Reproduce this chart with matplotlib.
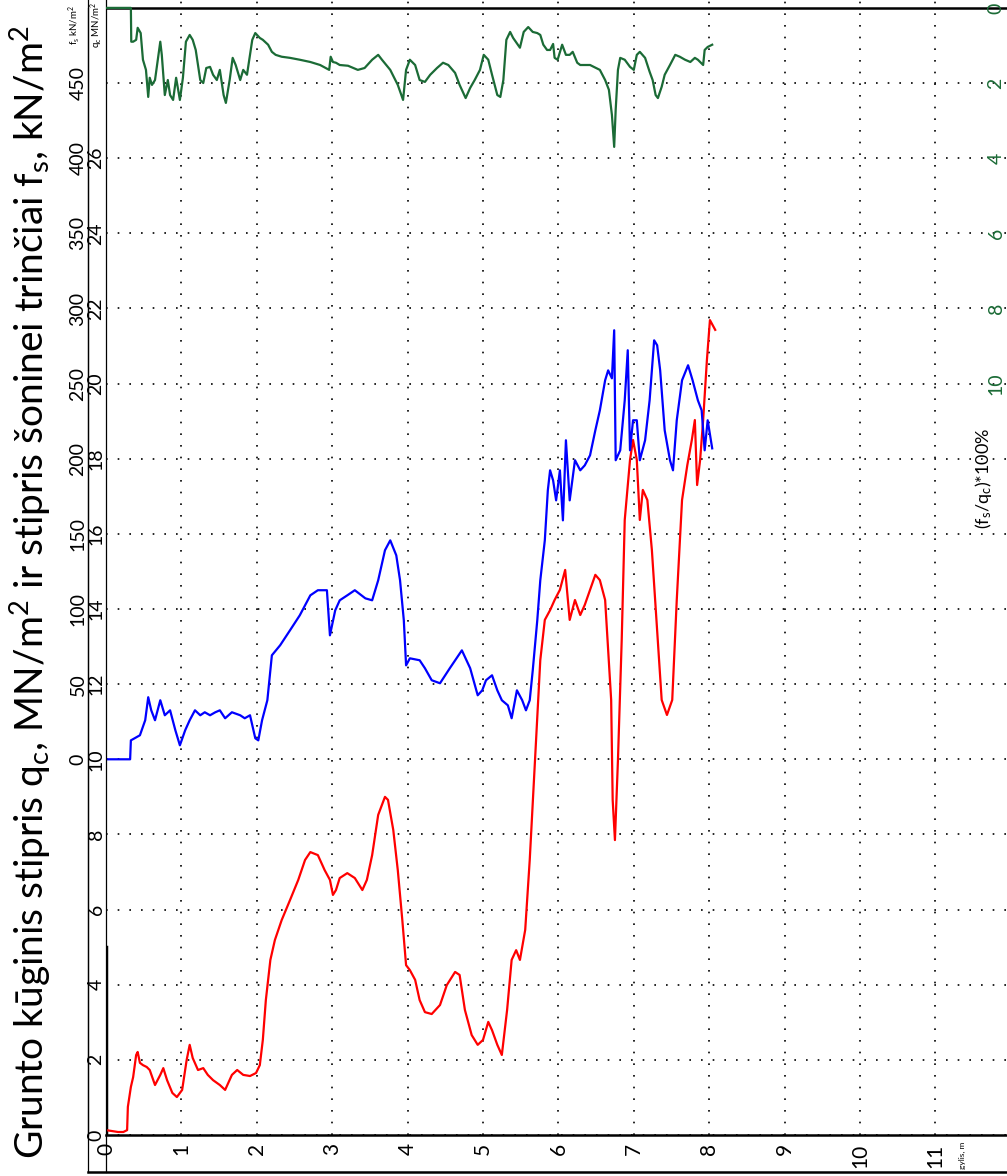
import matplotlib.pyplot as plt
from matplotlib.lines import Line2D

plt.rcParams['font.family'] = ['Lato', 'DejaVu Sans']
plt.rcParams['mathtext.fontset'] = 'custom'
plt.rcParams['mathtext.rm'] = 'Lato'
plt.rcParams['mathtext.it'] = 'Lato:italic'

# kūginis stipris qc, MN/m2 (raudona)
qc_gylis = [0, 0.16, 0.23, 0.28, 0.29, 0.33, 0.36, 0.40, 0.42, 0.45, 0.49, 0.54, 0.58, 0.65, 0.72, 0.76,
            0.81, 0.88, 0.94, 1.01, 1.07, 1.11, 1.15, 1.22, 1.29, 1.35, 1.42, 1.51, 1.58, 1.67, 1.74, 1.82,
            1.91, 1.99, 2.04, 2.08, 2.12, 2.18, 2.24, 2.33, 2.44, 2.55, 2.64, 2.71, 2.81, 2.90, 2.97, 3.01,
            3.05, 3.10, 3.20, 3.30, 3.40, 3.46, 3.53, 3.61, 3.70, 3.74, 3.81, 3.87, 3.93, 3.98, 4.03, 4.10,
            4.16, 4.23, 4.32, 4.43, 4.52, 4.63, 4.69, 4.76, 4.85, 4.93, 5.00, 5.07, 5.12, 5.19, 5.25, 5.32,
            5.38, 5.44, 5.49, 5.56, 5.62, 5.69, 5.76, 5.82, 5.89, 5.95, 6.02, 6.09, 6.15, 6.22, 6.29, 6.35,
            6.42, 6.49, 6.55, 6.62, 6.66, 6.70, 6.72, 6.75, 6.79, 6.84, 6.88, 6.95, 6.99, 7.04, 7.08, 7.12,
            7.18, 7.24, 7.31, 7.37, 7.44, 7.51, 7.57, 7.64, 7.71, 7.77, 7.81, 7.84, 7.88, 7.92, 7.97, 8.01,
            8.08]
qc = [0.13, 0.08, 0.08, 0.13, 0.75, 1.28, 1.54, 2.13, 2.21, 1.92, 1.86, 1.81, 1.73, 1.33, 1.60, 1.78,
      1.46, 1.12, 1.01, 1.20, 2.00, 2.40, 2.05, 1.73, 1.78, 1.60, 1.46, 1.33, 1.20, 1.60, 1.73, 1.60,
      1.57, 1.65, 1.86, 2.53, 3.59, 4.66, 5.19, 5.72, 6.25, 6.79, 7.32, 7.53, 7.45, 7.05, 6.79, 6.39,
      6.52, 6.84, 6.97, 6.84, 6.52, 6.79, 7.45, 8.52, 9.00, 8.92, 8.12, 7.05, 5.72, 4.52, 4.39, 4.13,
      3.59, 3.27, 3.22, 3.46, 3.99, 4.34, 4.26, 3.33, 2.66, 2.40, 2.53, 3.01, 2.79, 2.40, 2.13, 3.33,
      4.66, 4.92, 4.66, 5.46, 7.32, 9.98, 12.64, 13.71, 13.97, 14.24, 14.51, 15.04, 13.71, 14.24, 13.84, 14.11,
      14.51, 14.91, 14.77, 14.24, 12.91, 11.58, 8.92, 7.85, 9.98, 13.18, 16.37, 17.97, 18.50, 17.97, 16.37, 17.17,
      16.90, 15.57, 13.44, 11.58, 11.18, 11.58, 14.24, 16.90, 17.83, 18.50, 19.03, 17.30, 17.97, 19.03, 20.63, 21.69,
      21.43]

# šoninė trintis fs, kN/m2 (mėlyna)
fs_gylis = [0, 0.32, 0.33, 0.38, 0.45, 0.52, 0.56, 0.60, 0.65, 0.72, 0.78, 0.85, 0.92, 0.98, 1.05, 1.11,
            1.18, 1.25, 1.31, 1.38, 1.45, 1.51, 1.58, 1.67, 1.78, 1.84, 1.91, 1.98, 2.02, 2.07, 2.14, 2.20,
            2.31, 2.44, 2.57, 2.71, 2.81, 2.93, 2.97, 3.04, 3.10, 3.20, 3.30, 3.44, 3.53, 3.61, 3.70, 3.77,
            3.85, 3.90, 3.95, 3.98, 4.03, 4.16, 4.23, 4.32, 4.43, 4.56, 4.72, 4.83, 4.93, 4.99, 5.04, 5.12,
            5.19, 5.25, 5.33, 5.38, 5.45, 5.52, 5.57, 5.62, 5.66, 5.72, 5.76, 5.82, 5.86, 5.89, 5.93, 5.97,
            6.02, 6.06, 6.10, 6.15, 6.22, 6.29, 6.35, 6.42, 6.49, 6.55, 6.62, 6.66, 6.71, 6.74, 6.76, 6.82,
            6.88, 6.92, 6.95, 6.99, 7.04, 7.08, 7.15, 7.21, 7.27, 7.31, 7.35, 7.41, 7.48, 7.52, 7.57, 7.64,
            7.72, 7.78, 7.85, 7.90, 7.94, 7.98, 8.04]
fs = [0, 0, 12.6, 14.0, 16.0, 26.0, 41.3, 32.6, 26.0, 39.3, 29.3, 32.6, 19.3, 9.3, 19.3, 26.0,
      32.6, 29.3, 31.3, 29.3, 31.3, 32.6, 27.3, 31.3, 29.3, 27.3, 29.3, 14.0, 12.6, 26.0, 39.3, 69.2,
      75.9, 85.8, 95.8, 109.1, 112.5, 112.5, 82.5, 99.1, 105.8, 109.1, 112.5, 107.1, 105.8, 119.1, 139.1, 145.7,
      135.7, 119.1, 92.5, 62.5, 67.2, 65.9, 60.6, 52.6, 50.6, 60.6, 72.5, 60.6, 42.6, 45.9, 52.6, 55.9,
      45.9, 39.3, 35.9, 27.3, 45.9, 39.3, 32.6, 39.3, 59.2, 92.5, 119.1, 145.7, 179.0, 192.3, 185.6, 172.3,
      192.3, 159.0, 212.3, 172.3, 199.0, 192.3, 195.6, 202.3, 218.9, 232.2, 252.2, 258.8, 253.5, 285.5, 199.0, 205.6,
      238.9, 272.2, 205.6, 225.6, 225.6, 199.0, 212.3, 238.9, 278.8, 275.5, 258.8, 218.9, 199.0, 192.3, 225.6, 252.2,
      262.2, 252.2, 238.9, 232.2, 205.6, 225.6, 206.9]

# santykis (fs/qc)*100%, (žalia)
rf_gylis = [0, 0.33, 0.335, 0.36, 0.40, 0.42, 0.46, 0.49, 0.53, 0.56, 0.58, 0.61, 0.65, 0.69, 0.72, 0.74,
            0.78, 0.82, 0.85, 0.89, 0.93, 0.98, 1.02, 1.06, 1.11, 1.15, 1.19, 1.25, 1.29, 1.33, 1.38, 1.42,
            1.47, 1.51, 1.56, 1.59, 1.64, 1.68, 1.72, 1.78, 1.82, 1.87, 1.94, 1.98, 2.04, 2.08, 2.15, 2.20,
            2.25, 2.33, 2.44, 2.57, 2.71, 2.84, 2.96, 2.98, 3.01, 3.05, 3.10, 3.21, 3.34, 3.43, 3.53, 3.61,
            3.66, 3.77, 3.87, 3.94, 3.98, 4.03, 4.10, 4.16, 4.23, 4.30, 4.39, 4.47, 4.54, 4.63, 4.69, 4.77,
            4.83, 4.89, 4.96, 5.01, 5.07, 5.12, 5.19, 5.23, 5.27, 5.31, 5.36, 5.40, 5.49, 5.54, 5.60, 5.66,
            5.72, 5.76, 5.80, 5.85, 5.89, 5.93, 5.95, 5.99, 6.05, 6.10, 6.15, 6.19, 6.25, 6.29, 6.42, 6.55,
            6.62, 6.67, 6.71, 6.74, 6.76, 6.79, 6.82, 6.88, 6.95, 7.00, 7.04, 7.08, 7.15, 7.21, 7.25, 7.29,
            7.32, 7.37, 7.41, 7.48, 7.55, 7.61, 7.68, 7.75, 7.81, 7.85, 7.92, 7.94, 7.98, 8.04]
rf = [0, 0, 0.90, 0.90, 0.85, 0.53, 0.67, 1.38, 1.65, 2.37, 1.86, 2.05, 1.92, 1.33, 0.90, 1.25,
      2.32, 1.92, 2.32, 2.45, 1.86, 2.45, 1.86, 0.90, 0.72, 0.85, 1.12, 1.92, 2.00, 1.60, 1.57, 1.78,
      1.92, 1.65, 2.32, 2.53, 1.92, 1.33, 1.52, 1.92, 1.65, 1.78, 0.85, 0.67, 0.80, 0.85, 0.98, 1.17,
      1.25, 1.30, 1.33, 1.38, 1.44, 1.52, 1.65, 1.30, 1.44, 1.46, 1.52, 1.54, 1.65, 1.60, 1.38, 1.25,
      1.38, 1.65, 2.05, 2.45, 1.65, 1.38, 1.52, 1.92, 1.97, 1.78, 1.60, 1.46, 1.52, 1.73, 2.05, 2.40,
      2.13, 1.92, 1.65, 1.25, 1.38, 1.78, 2.32, 2.37, 1.92, 0.85, 0.64, 0.80, 1.06, 0.64, 0.51, 0.64,
      0.67, 0.72, 0.98, 1.12, 1.12, 0.96, 1.33, 1.38, 0.98, 1.25, 1.25, 1.17, 1.46, 1.52, 1.52, 1.65,
      1.92, 2.18, 2.85, 3.70, 2.71, 1.65, 1.33, 1.38, 1.57, 1.65, 1.25, 1.17, 1.33, 1.70, 1.92, 2.32,
      2.40, 2.10, 1.78, 1.52, 1.25, 1.30, 1.38, 1.44, 1.33, 1.38, 1.52, 1.12, 1.04, 0.98]

gylio_zymos = list(range(0, 12))
qc_zymos = list(range(0, 30, 2))
qc_tekstai = [str(v) for v in range(0, 28, 2)] + ['']
fs_zymos = list(range(0, 500, 50))
rf_zymos = list(range(0, 12, 2))

zalia = '#1b6b36'

fig = plt.figure(figsize=(10.07, 11.76), dpi=100)
ax = fig.add_axes([106 / 1007, 41 / 1176, 901 / 1007, 1135 / 1176])
ax.set_xlim(0, 11.95)
ax.set_ylim(0, 30.21)

# tinklelis
ax.set_xticks(gylio_zymos)
ax.set_xticklabels([str(v) for v in gylio_zymos], rotation=90, fontsize=15)
ax.set_yticks(qc_zymos)
ax.set_yticklabels(qc_tekstai, rotation=90, fontsize=14, va='center')
ax.tick_params(axis='x', length=0, pad=6)
ax.tick_params(axis='y', length=0, pad=1)
ax.grid(True, color='black', linestyle=(0, (1, 6)), linewidth=1.2)
for s in ['top', 'right']:
    ax.spines[s].set_visible(False)
ax.spines['bottom'].set_linewidth(1.8)
ax.spines['left'].set_linewidth(0.9)
ax.axhline(30, color='black', lw=1.8)
ax.axvline(0, ymax=5 / 30.21, color='black', lw=2.5)

# fs ašis
fs_ax = ax.secondary_yaxis(-0.02, functions=(lambda q: (q - 10) * 25, lambda f: f / 25 + 10))
fs_ax.set_yticks(fs_zymos)
fs_ax.set_yticklabels([str(v) for v in fs_zymos], rotation=90, fontsize=14, va='center')
fs_ax.tick_params(length=0, pad=1)
fs_ax.spines['left'].set_linewidth(0.9)

ax.plot(qc_gylis, qc, color='#ff0000', lw=1.6)
ax.plot(fs_gylis, [v / 25 + 10 for v in fs], color='#0000ff', lw=1.6)

# santykio ašis dešinėje
ax2 = ax.twinx()
ax2.set_ylim(30, -0.21)
ax2.plot(rf_gylis, rf, color=zalia, lw=1.6)
ax2.set_yticks(rf_zymos)
ax2.set_yticklabels([str(v) for v in rf_zymos], rotation=90, fontsize=14, va='center', color=zalia)
ax2.tick_params(axis='y', length=0, direction='in', pad=-14)
for s in ax2.spines.values():
    s.set_visible(False)

# rėmelio linijos
fig.add_artist(Line2D([88 / 1007, 88 / 1007], [4 / 1176, 1168 / 1176], color='black', lw=0.9))
fig.add_artist(Line2D([106 / 1007, 106 / 1007], [4 / 1176, 41 / 1176], color='black', lw=0.9))
fig.add_artist(Line2D([88 / 1007, 1.0], [4 / 1176, 4 / 1176], color='black', lw=1.8))

fig.text(30 / 1007, 1 - 592 / 1176,
         'Grunto kūginis stipris q$_\\mathrm{c}$, MN/m$^\\mathrm{2}$ ir stipris šoninei trinčiai f$_\\mathrm{s}$, kN/m$^\\mathrm{2}$',
         rotation=90, ha='center', va='center', fontsize=28)
fig.text(75 / 1007, 1 - 25 / 1176, 'f$_\\mathrm{s}$ kN/m$^\\mathrm{2}$', rotation=90,
         ha='center', va='center', fontsize=7)
fig.text(97 / 1007, 1 - 25 / 1176, 'q$_\\mathrm{c}$ MN/m$^\\mathrm{2}$', rotation=90,
         ha='center', va='center', fontsize=7)
fig.text(984 / 1007, 1 - 478 / 1176, '(f$_\\mathrm{s}$/q$_\\mathrm{c}$)*100%', rotation=90,
         ha='center', va='center', fontsize=13)
fig.text(962 / 1007, 1 - 1155 / 1176, 'gylis, m', rotation=90, ha='center', va='center', fontsize=6)

fig.savefig('out.png', dpi=100)
